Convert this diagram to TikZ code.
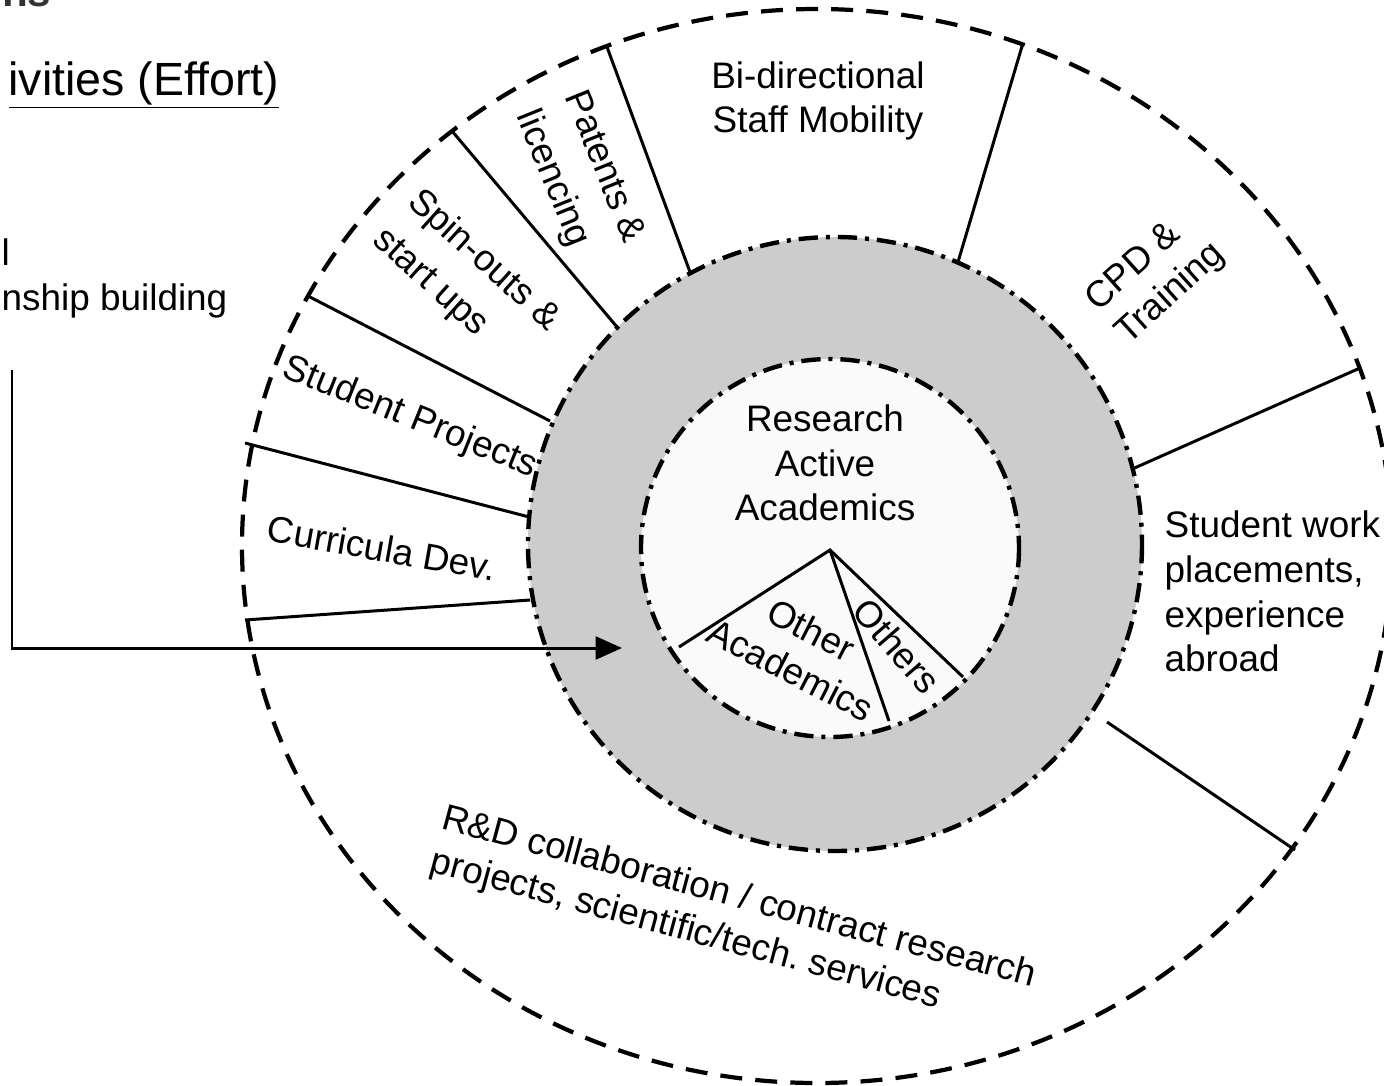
\documentclass[tikz,border=0pt]{standalone}
\usepackage{fontspec}
\setmainfont{Liberation Sans}
\usetikzlibrary{arrows.meta,positioning}

\definecolor{ringgray}{HTML}{CCCCCC}
\definecolor{corefill}{HTML}{FAFAFA}
\definecolor{titlegray}{HTML}{333333}

\frenchspacing

\begin{document}
\begin{tikzpicture}[x=0.02cm, y=-0.02cm, thick]

		\tikzstyle{lbl}=[inner sep=0pt, text=black, font=\fontsize{21}{25.5}\selectfont]
		\tikzstyle{wide}=[font=\fontsize{21}{29.5}\selectfont]
		\tikzstyle{divider}=[line width=1.7pt]
		\tikzstyle{outer}=[line width=2.4pt, dash pattern=on 12.5pt off 7.5pt]
		\tikzstyle{ring}=[line width=2.5pt, dash pattern=on 11pt off 4.5pt on 2.3pt off 4.5pt]

		\useasboundingbox (0,0) rectangle (1384,1086);
		\clip (0,0) rectangle (1384,1086);

		% outer band of activities
		\draw[outer] (817,546) ellipse [x radius=575, y radius=537];

		% sector borders
		\draw[divider] (245,620) -- (530,600);
		\draw[divider] (245,443) -- (533,518);
		\draw[divider] (308,296) -- (550,421);
		\draw[divider] (452,131) -- (617,327);
		\draw[divider] (607,47) -- (690,272);
		\draw[divider] (1023,43) -- (958,262);
		\draw[divider] (1360,368) -- (1130,470);
		\draw[divider] (1107,722) -- (1295,850);

		% staff rings
		\fill[ringgray] (835,544) circle [radius=307];
		\draw[ring] (835,544) circle [radius=307];
		\fill[corefill] (830,548) circle [radius=189];
		\draw[ring] (830,548) circle [radius=189];

		\coordinate (apex) at (830,550);
		\coordinate (w1) at (679,647);
		\coordinate (w2) at (889,721);
		\coordinate (w3) at (963,677);
		\draw[divider] (w1) -- (apex) -- (w3);
		\draw[divider] (apex) -- (w2);

		% labels
		\node[lbl, align=center] (bidir) at (818,101) {Bi-directional\\Staff Mobility};
		\node[lbl, wide, align=left, rotate=-68] (patents) at (579,177) {Patents \&\\licencing};
		\node[lbl, wide, align=left, rotate=-42] (spinouts) at (466,280) {Spin-outs \&\\start ups};
		\node[lbl, rotate=-22] (studproj) at (410,418) {Student Projects};
		\node[lbl, rotate=-10] (curric) at (382,548) {Curricula Dev.};
		\node[lbl, align=left, rotate=42] (cpd) at (1156,278) {CPD \&\\Training};
		\node[lbl, align=left, anchor=north west] (placements) at (1164,510) {Student work\\placements,\\experience\\abroad};
		\node[lbl, align=left, rotate=-15] (rnd) at (733,920) {R\&D collaboration / contract research\\projects, scientific/tech. services};

		\node[lbl, align=center] (raa) at (825,463) {Research\\Active\\Academics};
		\node[lbl, align=center, rotate=-27] (otheracad) at (801,650) {Other\\Academics};
		\node[lbl, rotate=-49] (others) at (897,646) {Others};

		% cut-off heading and side text
		\node[inner sep=0pt, anchor=base east, text=titlegray, font=\fontsize{24}{28}\selectfont\bfseries] (heading) at (52,6) {ns};
		\node[inner sep=0pt, anchor=base east, font=\fontsize{26.5}{30}\selectfont] (effort) at (280,95) {\underline{ivities (Effort)}};
		\node[lbl, align=left, anchor=north west] (informal) at (1,238) {l\\nship building};

		\coordinate (stub) at (12,370);
		\coordinate (tip) at (622,648);
		\draw[divider, -{Triangle[length=15pt, width=13pt]}] (stub) |- (tip);

\end{tikzpicture}
\end{document}
